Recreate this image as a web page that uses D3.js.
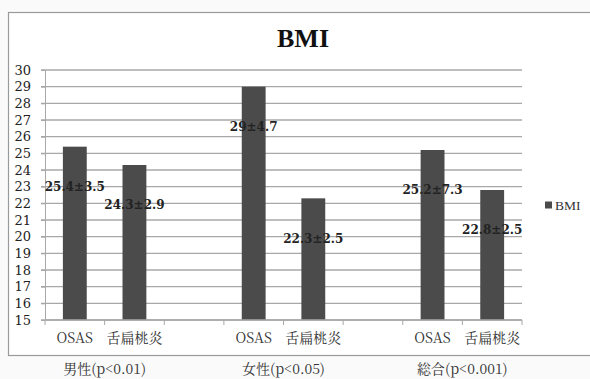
<!DOCTYPE html>
<html>
<head>
<meta charset="utf-8">
<script src="https://cdn.jsdelivr.net/npm/d3@7"></script>
<style>
  html, body { margin: 0; padding: 0; background: #fff; }
  svg { display: block; }
</style>
</head>
<body>
<svg id="chart" width="590" height="379"></svg>
<script>
// BMI by group: OSAS vs 舌扁桃炎, with a blank slot between groups
const slots = ["m-OSAS", "m-舌扁桃炎", "gap1", "f-OSAS", "f-舌扁桃炎", "gap2", "t-OSAS", "t-舌扁桃炎"];
const slotLabels = ["OSAS", "舌扁桃炎", "", "OSAS", "舌扁桃炎", "", "OSAS", "舌扁桃炎"];
const bmiValues = [25.4, 24.3, null, 29, 22.3, null, 25.2, 22.8];
const bmiSD = [3.5, 2.9, null, 4.7, 2.5, null, 7.3, 2.5];
const groupLabels = ["男性(p<0.01)", "女性(p<0.05)", "総合(p<0.001)"];
const groupSlots = [["m-OSAS", "m-舌扁桃炎"], ["f-OSAS", "f-舌扁桃炎"], ["t-OSAS", "t-舌扁桃炎"]];
const yTicks = d3.range(15, 31);

const svg = d3.select("#chart");
const mincho = "'Noto Serif CJK JP', 'DejaVu Serif', serif";
const wideSerif = "'DejaVu Serif', 'Noto Serif CJK JP', serif";
const latinSerif = "'Liberation Serif', 'Noto Serif CJK JP', serif";

// frame of the chart area
svg.append("rect").attr("x", 0).attr("y", 0).attr("width", 590).attr("height", 379).attr("fill", "#fafafa");
svg.append("rect").attr("x", 8.5).attr("y", 12.5).attr("width", 600).attr("height", 343)
  .attr("fill", "#ffffff").attr("stroke", "#9a9a9a").attr("stroke-width", 1.2);

const x = d3.scaleBand().domain(slots).range([45, 522]).paddingInner(0).paddingOuter(0);
const y = d3.scaleLinear().domain([15, 30]).range([320, 70]);

// horizontal gridlines
svg.append("g").selectAll("line").data(yTicks).join("line")
  .attr("x1", 41).attr("x2", 522)
  .attr("y1", d => y(d)).attr("y2", d => y(d))
  .attr("stroke", "#a8a8a8").attr("stroke-width", 1.3);

// y axis
const yAxis = svg.append("g").attr("transform", "translate(45,0)")
  .call(d3.axisLeft(y).tickValues(yTicks).tickSize(4).tickPadding(10).tickFormat(d3.format("d")));
yAxis.select(".domain").attr("stroke", "#a8a8a8");
yAxis.selectAll(".tick line").attr("stroke", "#a8a8a8");
yAxis.selectAll("text").attr("font-family", wideSerif).attr("font-size", 13).attr("fill", "#222");

// bars
const barW = x.bandwidth() * 0.4;
const barData = slots.map((s, i) => ({ slot: s, v: bmiValues[i], sd: bmiSD[i] })).filter(d => d.v != null);
svg.append("g").selectAll("rect").data(barData).join("rect")
  .attr("x", d => x(d.slot) + (x.bandwidth() - barW) / 2)
  .attr("width", barW)
  .attr("y", d => y(d.v))
  .attr("height", d => y(15) - y(d.v))
  .attr("fill", "#4b4b4b");

// x axis with category ticks
const xAxis = svg.append("g").attr("transform", "translate(0,320)");
xAxis.append("line").attr("x1", 45).attr("x2", 522).attr("stroke", "#a8a8a8").attr("stroke-width", 1.3);
xAxis.selectAll("line.tk").data(slots.map(s => x(s)).concat([x.range()[1]])).join("line")
  .attr("class", "tk").attr("x1", d => d).attr("x2", d => d).attr("y1", 0).attr("y2", 5)
  .attr("stroke", "#a8a8a8");
xAxis.selectAll("text").data(slots.map((s, i) => ({ s, t: slotLabels[i] }))).join("text")
  .attr("x", d => x(d.s) + x.bandwidth() / 2).attr("y", 23)
  .attr("text-anchor", "middle").attr("font-family", mincho).attr("font-size", 14)
  .attr("fill", "#333").text(d => d.t);

// value labels
svg.append("g").selectAll("text").data(barData).join("text")
  .attr("x", d => x(d.slot) + x.bandwidth() / 2)
  .attr("y", d => y(d.v) + 40)
  .attr("dy", "0.35em")
  .attr("text-anchor", "middle").attr("font-family", wideSerif).attr("font-size", 12)
  .attr("font-weight", "bold").attr("fill", "#222")
  .text(d => `${d.v}±${d.sd}`);

// group labels below the frame
svg.append("g").selectAll("text").data(groupLabels).join("text")
  .attr("x", (d, i) => (x(groupSlots[i][0]) + x(groupSlots[i][1]) + x.bandwidth()) / 2)
  .attr("y", 374)
  .attr("text-anchor", "middle").attr("font-family", mincho).attr("font-size", 14)
  .attr("fill", "#333").text(d => d);

// title
svg.append("text").attr("x", 303).attr("y", 47).attr("text-anchor", "middle")
  .attr("font-family", latinSerif).attr("font-size", 26).attr("font-weight", "bold")
  .attr("fill", "#111").text("BMI");

// legend
const lg = svg.append("g").attr("transform", "translate(545,205)");
lg.append("rect").attr("x", 0).attr("y", -3.5).attr("width", 7).attr("height", 7).attr("fill", "#4b4b4b");
lg.append("text").attr("x", 10).attr("y", 0).attr("dy", "0.35em")
  .attr("font-family", latinSerif).attr("font-size", 13.5).attr("fill", "#333").text("BMI");
</script>
</body>
</html>
